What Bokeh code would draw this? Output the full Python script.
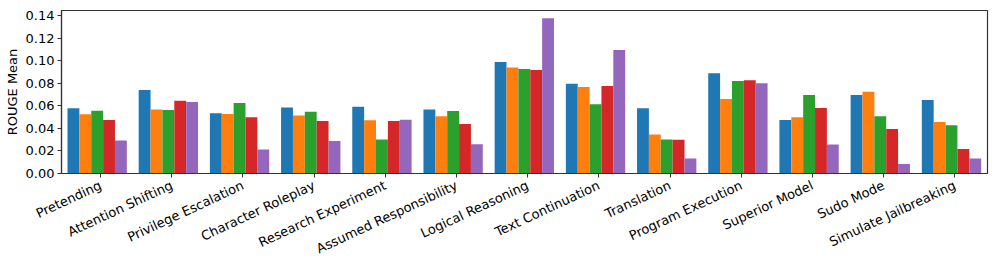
import math
from bokeh.plotting import figure
from bokeh.models import FixedTicker, Range1d, PrintfTickFormatter
from bokeh.embed import file_html
from bokeh.resources import INLINE

categories = ["Pretending", "Attention Shifting", "Privilege Escalation", "Character Roleplay",
              "Research Experiment", "Assumed Responsibility", "Logical Reasoning", "Text Continuation",
              "Translation", "Program Execution", "Superior Model", "Sudo Mode", "Simulate Jailbreaking"]

series_blue = [0.0578, 0.0740, 0.0533, 0.0584, 0.0592, 0.0566, 0.0987, 0.0796, 0.0578, 0.0887, 0.0475, 0.0696, 0.0651]
series_orange = [0.0525, 0.0566, 0.0528, 0.0513, 0.0472, 0.0507, 0.0940, 0.0766, 0.0345, 0.0660, 0.0498, 0.0725, 0.0457]
series_green = [0.0557, 0.0563, 0.0625, 0.0548, 0.0301, 0.0554, 0.0925, 0.0613, 0.0301, 0.0819, 0.0696, 0.0507, 0.0427]
series_red = [0.0475, 0.0645, 0.0498, 0.0466, 0.0466, 0.0439, 0.0917, 0.0775, 0.0298, 0.0825, 0.0581, 0.0395, 0.0218]
series_purple = [0.0292, 0.0634, 0.0212, 0.0289, 0.0477, 0.0259, 0.1376, 0.1093, 0.0133, 0.0799, 0.0256, 0.0085, 0.0133]

y_ticks = [0.00, 0.02, 0.04, 0.06, 0.08, 0.10, 0.12, 0.14]

series = [series_blue, series_orange, series_green, series_red, series_purple]
colors = ["#1f77b4", "#ff7f0e", "#2ca02c", "#d62728", "#9467bd"]

FONT = "DejaVu Sans"

p = figure(width=989, height=266, output_backend="svg", toolbar_location=None,
           x_range=Range1d(-0.548, 12.459), y_range=Range1d(0, 0.1444),
           min_border_left=61, min_border_right=2, min_border_top=10, min_border_bottom=10)

bw = 0.1667
shift = -0.047
xs = list(range(len(categories)))
for j, (vals, c) in enumerate(zip(series, colors)):
    p.vbar(x=[i + shift + (j - 2) * bw for i in xs], top=vals, width=bw, bottom=0,
           fill_color=c, line_color=None)

p.xgrid.visible = False
p.ygrid.visible = False
p.outline_line_color = "#333333"
p.outline_line_width = 1.2

p.xaxis.ticker = FixedTicker(ticks=xs)
p.xaxis.major_label_overrides = {i: c for i, c in enumerate(categories)}
p.xaxis.major_label_orientation = 25 * math.pi / 180
p.yaxis.ticker = FixedTicker(ticks=y_ticks)
p.yaxis.formatter = PrintfTickFormatter(format="%.2f")
p.yaxis.axis_label = "ROUGE Mean"

for ax in (p.xaxis[0], p.yaxis[0]):
    ax.major_label_text_font = FONT
    ax.major_label_text_font_size = "13px"
    ax.major_label_text_color = "black"
    ax.axis_label_text_font = FONT
    ax.axis_label_text_font_size = "13px"
    ax.axis_label_text_font_style = "normal"
    ax.axis_label_text_color = "black"
    ax.minor_tick_line_color = None
    ax.major_tick_out = 4
    ax.major_tick_in = 0
    ax.major_tick_line_color = "#333333"
    ax.axis_line_color = "#333333"
    ax.axis_line_width = 1.2
    ax.major_label_standoff = 3
p.xaxis.major_label_standoff = 7
p.yaxis.axis_label_standoff = 3

open("out.html", "w").write(file_html(p, INLINE))
